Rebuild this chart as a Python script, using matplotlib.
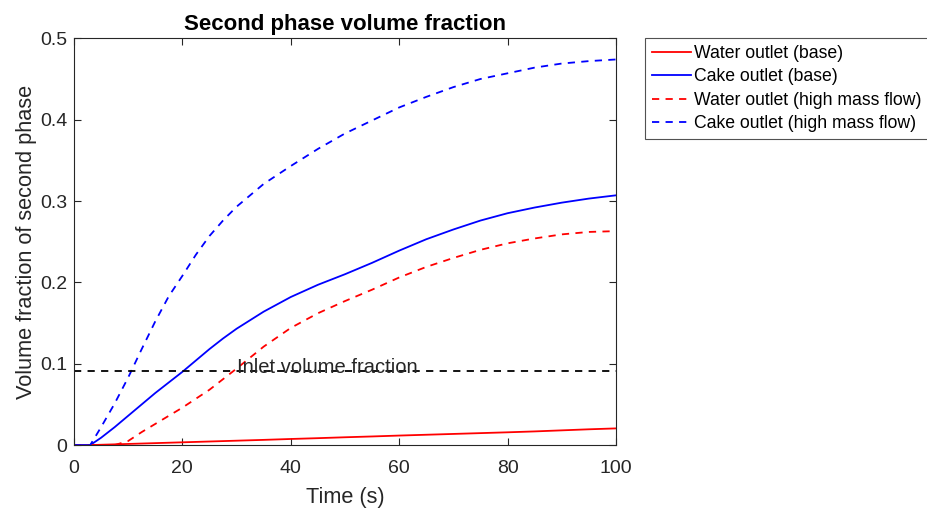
import matplotlib.pyplot as plt
import numpy as np

plt.rcParams['font.family'] = ['Liberation Sans', 'DejaVu Sans']

# time points (s) and second phase volume fraction
t = [0, 3, 5, 7.5, 10, 12.5, 15, 17.5, 20, 22.5, 25, 27.5, 30, 35, 40, 45, 50,
     55, 60, 65, 70, 75, 80, 85, 90, 95, 100]
water_base = [0, 0, 0.0004, 0.0009, 0.0014, 0.0019, 0.0024, 0.0029, 0.0034, 0.0039,
              0.0044, 0.0049, 0.0054, 0.0064, 0.0075, 0.0085, 0.0096, 0.0106, 0.0117,
              0.0127, 0.0137, 0.0147, 0.0157, 0.0168, 0.0181, 0.0194, 0.0205]
cake_base = [0, 0, 0.009, 0.022, 0.036, 0.050, 0.064, 0.077, 0.090, 0.104, 0.118,
             0.131, 0.143, 0.164, 0.182, 0.197, 0.210, 0.224, 0.239, 0.253, 0.265,
             0.276, 0.285, 0.292, 0.298, 0.303, 0.307]
water_high = [0, 0, 0, 0, 0.005, 0.016, 0.026, 0.036, 0.046, 0.057, 0.068, 0.081,
              0.094, 0.121, 0.144, 0.162, 0.177, 0.191, 0.206, 0.219, 0.230, 0.240,
              0.248, 0.254, 0.259, 0.262, 0.263]
cake_high = [0, 0, 0.022, 0.051, 0.083, 0.118, 0.152, 0.183, 0.208, 0.234, 0.257,
             0.276, 0.293, 0.321, 0.343, 0.364, 0.383, 0.399, 0.415, 0.428, 0.440,
             0.450, 0.457, 0.464, 0.469, 0.472, 0.474]
inlet_fraction = 0.0913

fig = plt.figure(figsize=(9.28, 5.11), dpi=100)
ax = fig.add_axes([0.0797, 0.129, 0.584, 0.796])

dash = (0, (4, 3.5))
ax.plot(t, water_base, color='red', lw=1.3, label='Water outlet (base)')
ax.plot(t, cake_base, color='blue', lw=1.3, label='Cake outlet (base)')
ax.plot(t, water_high, color='red', lw=1.3, ls=dash, label='Water outlet (high mass flow)')
ax.plot(t, cake_high, color='blue', lw=1.3, ls=dash, label='Cake outlet (high mass flow)')
ax.axhline(inlet_fraction, color='black', lw=1.3, ls=dash)
ax.text(30, 0.0888, 'Inlet volume fraction', fontsize=14.5,
        color='0.15', va='baseline', ha='left')

ax.set_xlim(0, 100)
ax.set_ylim(0, 0.5)
ax.set_xticks([0, 20, 40, 60, 80, 100])
ax.set_yticks([0, 0.1, 0.2, 0.3, 0.4, 0.5])
ax.set_yticklabels(['0', '0.1', '0.2', '0.3', '0.4', '0.5'])
ax.tick_params(direction='in', top=True, right=True, labelsize=14,
               colors='0.15', length=5)
ax.tick_params(axis='x', pad=11)
ax.tick_params(axis='y', pad=5)
for s in ax.spines.values():
    s.set_color('0.15')
    s.set_linewidth(0.8)

ax.set_xlabel('Time (s)', fontsize=15.7, color='0.15', labelpad=7)
ax.set_ylabel('Volume fraction of second phase', fontsize=15.7, color='0.15', labelpad=2)
ax.set_title('Second phase volume fraction', fontsize=16, fontweight='bold', pad=6)

leg = fig.legend(loc='upper left', bbox_to_anchor=(645 / 928, 1 - 38 / 511),
                 fontsize=12.7, frameon=True, fancybox=False, handlelength=2.2,
                 handletextpad=0.2, borderpad=0.4, labelspacing=0.36,
                 borderaxespad=0)
leg.get_frame().set_edgecolor('0.15')
leg.get_frame().set_linewidth(0.8)

fig.savefig('out.png', dpi=100)
